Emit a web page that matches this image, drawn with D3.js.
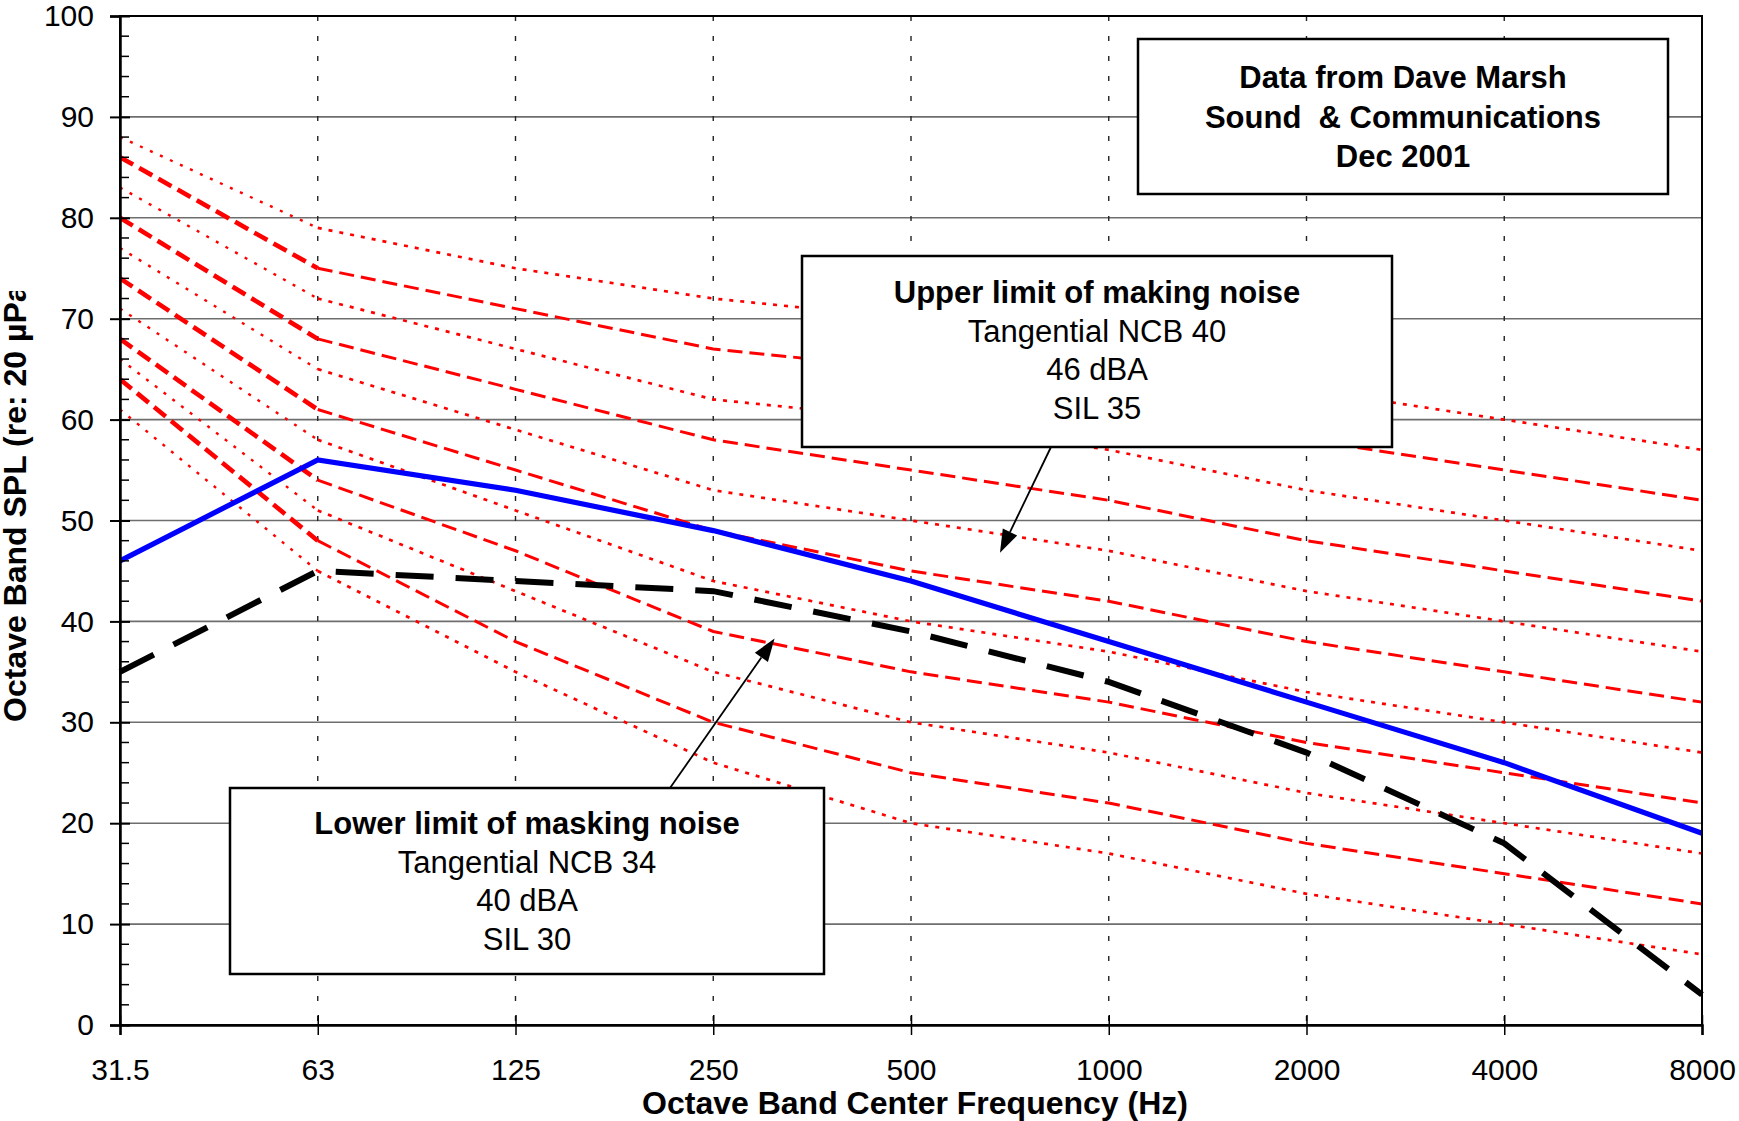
<!DOCTYPE html>
<html>
<head>
<meta charset="utf-8">
<script src="https://cdn.jsdelivr.net/npm/d3@7"></script>
<style>
  html, body { margin: 0; padding: 0; background: #ffffff; }
  svg { display: block; }
  text { font-family: "Liberation Sans", Arial, Helvetica, sans-serif; fill: #000; white-space: pre; }
</style>
</head>
<body>
<svg id="chart" width="1739" height="1121"></svg>
<script>
// Octave band centre frequencies (Hz)
const bands = ["31.5", "63", "125", "250", "500", "1000", "2000", "4000", "8000"];
const yTickValues = [0, 10, 20, 30, 40, 50, 60, 70, 80, 90, 100];

// Balanced noise criterion curves, octave band SPL (dB)
const ncb65 = [88, 79, 75, 72, 70, 67, 63, 60, 57];
const ncb60 = [86, 75, 71, 67, 65, 62, 58, 55, 52];
const ncb55 = [83, 72, 67, 62, 60, 57, 53, 50, 47];
const ncb50 = [80, 68, 63, 58, 55, 52, 48, 45, 42];
const ncb45 = [77, 65, 59, 53, 50, 47, 43, 40, 37];
const ncb40 = [74, 61, 55, 49, 45, 42, 38, 35, 32];
const ncb35 = [71, 58, 51, 44, 40, 37, 33, 30, 27];
const ncb30 = [68, 54, 47, 39, 35, 32, 28, 25, 22];
const ncb25 = [66, 51, 43, 35, 30, 27, 23, 20, 17];
const ncb20 = [64, 48, 38, 30, 25, 22, 18, 15, 12];
const ncb15 = [61, 45, 35, 26, 20, 17, 13, 10, 7];

// Masking noise limits
const upperLimit = [46, 56, 53, 49, 44, 38, 32, 26, 19];
const lowerLimit = [35, 45, 44, 43, 39, 34, 27, 18, 3];

// Annotation text
const sourceLines = ["Data from Dave Marsh", "Sound  & Communications", "Dec 2001"];
const upperLines = ["Upper limit of making noise", "Tangential NCB 40", "46 dBA", "SIL 35"];
const lowerLines = ["Lower limit of masking noise", "Tangential NCB 34", "40 dBA", "SIL 30"];

const ncbSeries = [
  { level: 65, values: ncb65, style: "dot" },
  { level: 60, values: ncb60, style: "dash" },
  { level: 55, values: ncb55, style: "dot" },
  { level: 50, values: ncb50, style: "dash" },
  { level: 45, values: ncb45, style: "dot" },
  { level: 40, values: ncb40, style: "dash" },
  { level: 35, values: ncb35, style: "dot" },
  { level: 30, values: ncb30, style: "dash" },
  { level: 25, values: ncb25, style: "dot" },
  { level: 20, values: ncb20, style: "dash" },
  { level: 15, values: ncb15, style: "dot" }
];

const svg = d3.select("#chart");
const plot = { left: 120, right: 1702, top: 16, bottom: 1025 };

const x = d3.scalePoint().domain(bands).range([plot.left, plot.right]);
const y = d3.scaleLinear().domain([0, 100]).range([plot.bottom, plot.top]);
// position between bands, by fractional band index
const xAt = i => plot.left + i * x.step();

// horizontal grid
svg.append("g")
  .selectAll("line")
  .data(yTickValues.filter(v => v > 0 && v < 100))
  .join("line")
  .attr("x1", plot.left).attr("x2", plot.right)
  .attr("y1", d => y(d)).attr("y2", d => y(d))
  .attr("stroke", "#6e6e6e").attr("stroke-width", 1.6);

// vertical grid (dashed)
svg.append("g")
  .selectAll("line")
  .data(bands.slice(1, -1))
  .join("line")
  .attr("x1", d => x(d)).attr("x2", d => x(d))
  .attr("y1", plot.top).attr("y2", plot.bottom)
  .attr("stroke", "#222").attr("stroke-width", 1.4)
  .attr("stroke-dasharray", "5,15");

// NCB curves: the steep low-frequency leg is drawn heavier than the rest
const line = d3.line().x(d => x(d.band)).y(d => y(d.value));
const pointsOf = vals => vals.map((v, i) => ({ band: bands[i], value: v }));
const ncbG = svg.append("g");
ncbSeries.forEach(s => {
  const pts = pointsOf(s.values);
  const dash = s.style === "dash";
  ncbG.append("path")
    .attr("d", line(pts.slice(0, 2)))
    .attr("fill", "none").attr("stroke", "#ff0000")
    .attr("stroke-width", dash ? 4.6 : 2.4)
    .attr("stroke-dasharray", dash ? "15,7" : "3,8");
  ncbG.append("path")
    .attr("d", line(pts.slice(1)))
    .attr("fill", "none").attr("stroke", "#ff0000")
    .attr("stroke-width", dash ? 3 : 2.7)
    .attr("stroke-dasharray", dash ? "15,7" : "4,7");
});

// upper limit (solid blue)
svg.append("path")
  .attr("d", line(pointsOf(upperLimit)))
  .attr("fill", "none").attr("stroke", "#0000ff").attr("stroke-width", 5.2);

// lower limit (heavy black dashes)
svg.append("path")
  .attr("d", line(pointsOf(lowerLimit)))
  .attr("fill", "none").attr("stroke", "#000").attr("stroke-width", 6)
  .attr("stroke-dasharray", "38,22");

// frame
svg.append("rect")
  .attr("x", plot.left).attr("y", plot.top)
  .attr("width", plot.right - plot.left).attr("height", plot.bottom - plot.top)
  .attr("fill", "none").attr("stroke", "#000").attr("stroke-width", 2);

// y axis
const yAxis = d3.axisLeft(y).tickValues(yTickValues).tickSize(10).tickPadding(16)
  .tickFormat(d3.format("d"));
const gy = svg.append("g").attr("transform", `translate(${plot.left},0)`).call(yAxis);
gy.select(".domain").attr("stroke", "#000").attr("stroke-width", 2.5);
gy.selectAll(".tick line").attr("stroke", "#000").attr("stroke-width", 2)
  .attr("x2", -10).attr("x1", 10);
gy.selectAll(".tick text").attr("font-size", 30).attr("font-family", "Liberation Sans, Arial, sans-serif")
  .attr("fill", "#000");

// minor ticks every 2 dB, inside the plot
svg.append("g")
  .selectAll("line")
  .data(d3.range(0, 101, 2).filter(v => v % 10 !== 0))
  .join("line")
  .attr("x1", plot.left).attr("x2", plot.left + 9)
  .attr("y1", d => y(d)).attr("y2", d => y(d))
  .attr("stroke", "#000").attr("stroke-width", 1.5);

// x axis
const xAxis = d3.axisBottom(x).tickSize(10).tickPadding(24);
const gx = svg.append("g").attr("transform", `translate(0,${plot.bottom})`).call(xAxis);
gx.select(".domain").attr("stroke", "#000").attr("stroke-width", 2.5);
gx.selectAll(".tick line").attr("stroke", "#000").attr("stroke-width", 1.5)
  .attr("y1", -10).attr("y2", 10);
gx.selectAll(".tick text").attr("font-size", 30).attr("font-family", "Liberation Sans, Arial, sans-serif")
  .attr("fill", "#000");

// axis titles
svg.append("text")
  .attr("x", (plot.left + plot.right) / 2 + 4).attr("y", 1114)
  .attr("text-anchor", "middle").attr("font-size", 32).attr("font-weight", "bold")
  .text("Octave Band Center Frequency (Hz)");

// the vertical title runs past the top of its area and is cut there
svg.append("clipPath").attr("id", "ytitle-clip")
  .append("rect").attr("x", 0).attr("y", 291).attr("width", 60).attr("height", 830);
svg.append("g")
  .attr("clip-path", "url(#ytitle-clip)")
  .append("text")
  .attr("transform", "translate(26,722) rotate(-90)")
  .attr("text-anchor", "start").attr("font-size", 32).attr("font-weight", "bold")
  .text("Octave Band SPL (re: 20 \u00B5Pa)");

// annotation boxes
function textBox(box, lines, boldFirstOnly, lineGap, firstBaseline) {
  const g = svg.append("g");
  g.append("rect")
    .attr("x", box.x0).attr("y", box.y0)
    .attr("width", box.x1 - box.x0).attr("height", box.y1 - box.y0)
    .attr("fill", "#fff").attr("stroke", "#000").attr("stroke-width", 2.5);
  g.selectAll("text")
    .data(lines)
    .join("text")
    .attr("x", (box.x0 + box.x1) / 2)
    .attr("y", (d, i) => firstBaseline + i * lineGap)
    .attr("text-anchor", "middle")
    .attr("font-size", 31)
    .attr("font-weight", (d, i) => (!boldFirstOnly || i === 0) ? "bold" : "normal")
    .text(d => d);
}

function arrow(from, to) {
  const dx = to[0] - from[0], dy = to[1] - from[1];
  const len = Math.hypot(dx, dy), ux = dx / len, uy = dy / len;
  const headLen = 23, headHalf = 8;
  const bx = to[0] - ux * headLen, by = to[1] - uy * headLen;
  svg.append("line")
    .attr("x1", from[0]).attr("y1", from[1]).attr("x2", bx).attr("y2", by)
    .attr("stroke", "#000").attr("stroke-width", 1.8);
  svg.append("path")
    .attr("d", `M${to[0]},${to[1]}L${bx - uy * headHalf},${by + ux * headHalf}L${bx + uy * headHalf},${by - ux * headHalf}Z`)
    .attr("fill", "#000");
}

textBox({ x0: 1138, y0: 39, x1: 1668, y1: 194 }, sourceLines, false, 39.5, 88);
textBox({ x0: 802, y0: 256, x1: 1392, y1: 447 }, upperLines, true, 38.7, 303);
textBox({ x0: 230, y0: 788, x1: 824, y1: 974 }, lowerLines, true, 38.5, 834);

// pointers from the boxes into the curves (tips in band index / dB)
arrow([1051, 447], [xAt(4.45), y(46.8)]);
arrow([670, 788], [xAt(3.31), y(38.3)]);
</script>
</body>
</html>
